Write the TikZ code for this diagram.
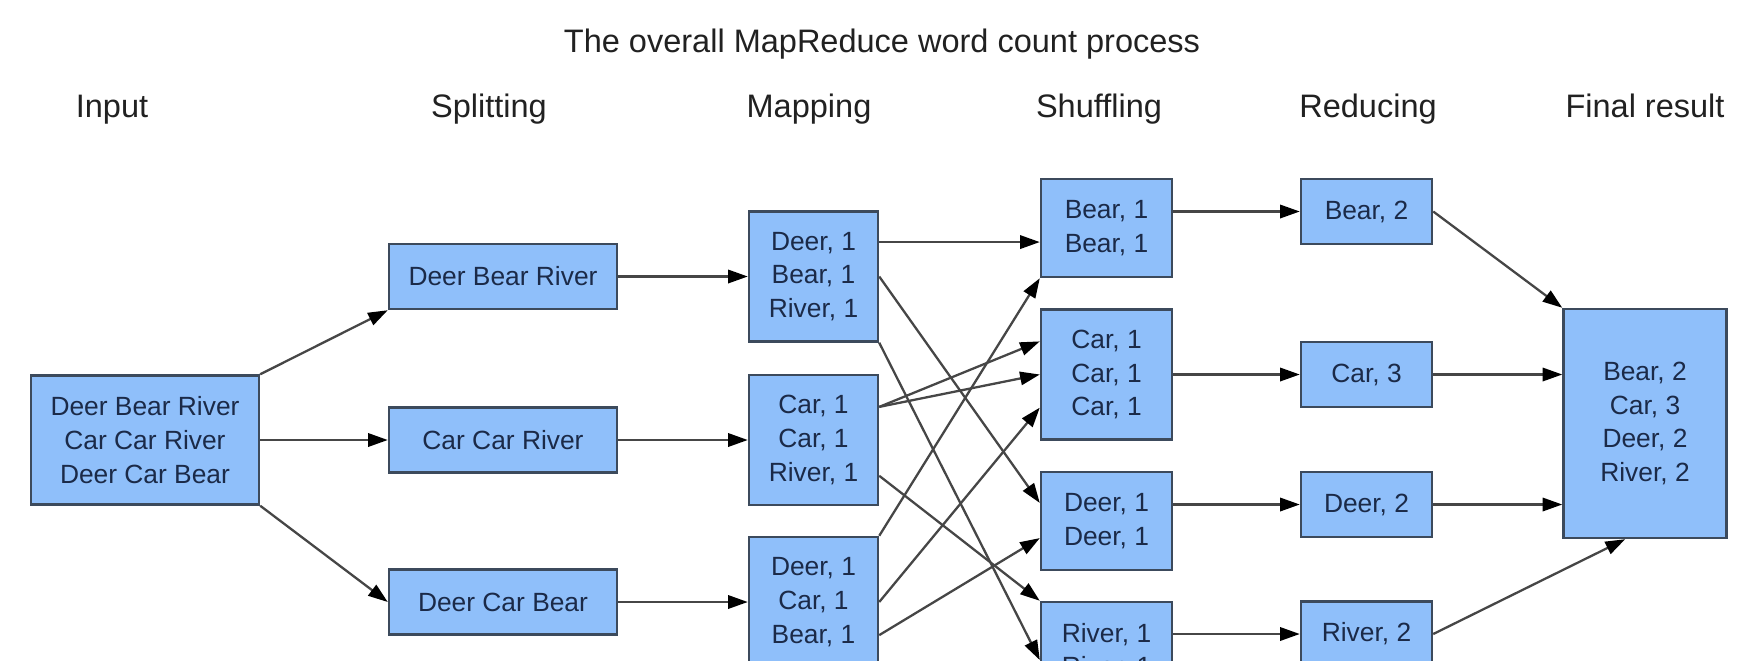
\documentclass[tikz,border=0pt]{standalone}
\usepackage{fontspec}
\setmainfont{Liberation Sans}
\usetikzlibrary{arrows.meta,calc}

\definecolor{boxblue}{RGB}{143,191,250}
\definecolor{boxline}{RGB}{60,74,92}
\definecolor{boxtext}{RGB}{27,42,72}
\definecolor{wire}{RGB}{70,70,70}

\tikzset{
	box/.style={draw=boxline, line width=0.7pt, fill=boxblue, text=boxtext, align=center, inner sep=0pt,
		minimum width=1.31cm, minimum height=0.65cm, font=\fontsize{7.5}{9.6}\selectfont},
	wide/.style={box, minimum width=2.28cm},
	head/.style={anchor=base, text=black!87, font=\fontsize{9.25}{11}\selectfont},
	arr/.style={draw=wire, line width=0.65pt, -{Triangle[length=5.6pt,width=3.8pt,color=black]}},
}

\begin{document}
\begin{tikzpicture}
			\useasboundingbox (0,0) rectangle (17.44,6.6);
			\clip (0,0) rectangle (17.44,6.6);
			\fill[white] (0,0) rectangle (17.44,6.6);
			\node[head] (title) at (8.82,6.074) {The overall MapReduce word count process};
			\node[head] (hin) at (1.12,5.425) {Input};
			\node[head] (hsp) at (4.89,5.425) {Splitting};
			\node[head] (hmp) at (8.09,5.425) {Mapping};
			\node[head] (hsh) at (10.99,5.425) {Shuffling};
			\node[head] (hrd) at (13.68,5.425) {Reducing};
			\node[head] (hfin) at (16.45,5.425) {Final result};
			\node[wide, minimum height=1.29cm] (inp) at (1.45,2.20) {Deer Bear River\\Car Car River\\Deer Car Bear};
			\node[wide] (sp1) at (5.03,3.835) {Deer Bear River};
			\node[wide] (sp2) at (5.03,2.20) {Car Car River};
			\node[wide] (sp3) at (5.03,0.58) {Deer Car Bear};
			\node[box, minimum width=1.29cm, minimum height=1.30cm] (mp1) at (8.135,3.835) {Deer, 1\\Bear, 1\\River, 1};
			\node[box, minimum width=1.29cm, minimum height=1.30cm] (mp2) at (8.135,2.20) {Car, 1\\Car, 1\\River, 1};
			\node[box, minimum width=1.29cm, minimum height=1.30cm] (mp3) at (8.135,0.58) {Deer, 1\\Car, 1\\Bear, 1};
			\node[box, minimum height=0.98cm] (sh1) at (11.065,4.32) {Bear, 1\\Bear, 1};
			\node[box, minimum height=1.30cm] (sh2) at (11.065,2.855) {Car, 1\\Car, 1\\Car, 1};
			\node[box, minimum height=0.98cm] (sh3) at (11.065,1.39) {Deer, 1\\Deer, 1};
			\node[box, minimum height=0.98cm] (sh4) at (11.065,0.09) {River, 1\\River, 1};
			\node[box] (rd1) at (13.665,4.485) {Bear, 2};
			\node[box] (rd2) at (13.665,2.855) {Car, 3};
			\node[box] (rd3) at (13.665,1.555) {Deer, 2};
			\node[box] (rd4) at (13.665,0.26) {River, 2};
			\node[box, minimum width=1.63cm, minimum height=2.29cm] (fin) at (16.45,2.365) {Bear, 2\\Car, 3\\Deer, 2\\River, 2};
			\draw[arr] (inp.north east) -- (sp1.south west);
			\draw[arr] (inp.east) -- (sp2.west);
			\draw[arr] (inp.south east) -- (sp3.west);
			\draw[arr] (sp1.east) -- (mp1.west);
			\draw[arr] (sp2.east) -- (mp2.west);
			\draw[arr] (sp3.east) -- (mp3.west);
			\coordinate (m1a) at ($(mp1.north east)!.24!(mp1.south east)$);
			\draw[arr] (m1a) -- (m1a -| sh1.west);
			\draw[arr] (mp1.east) -- ($(sh3.north west)!.32!(sh3.south west)$);
			\draw[arr] (mp1.south east) -- ($(sh4.north west)!.59!(sh4.south west)$);
			\coordinate (m2a) at ($(mp2.north east)!.25!(mp2.south east)$);
			\draw[arr] (m2a) -- ($(sh2.north west)!.25!(sh2.south west)$);
			\draw[arr] (m2a) -- (sh2.west);
			\draw[arr] ($(mp2.north east)!.77!(mp2.south east)$) -- (sh4.north west);
			\draw[arr] (mp3.north east) -- (sh1.south west);
			\draw[arr] (mp3.east) -- ($(sh2.north west)!.75!(sh2.south west)$);
			\draw[arr] ($(mp3.north east)!.75!(mp3.south east)$) -- ($(sh3.north west)!.67!(sh3.south west)$);
			\draw[arr] (sh1.east |- rd1.west) -- (rd1.west);
			\draw[arr] (sh2.east |- rd2.west) -- (rd2.west);
			\draw[arr] (sh3.east |- rd3.west) -- (rd3.west);
			\draw[arr] (sh4.east |- rd4.west) -- (rd4.west);
			\draw[arr] (rd1.east) -- (fin.north west);
			\draw[arr] (rd2.east) -- (rd2.east -| fin.west);
			\draw[arr] (rd3.east) -- (rd3.east -| fin.west);
			\draw[arr] (rd4.east) -- ($(fin.south west)!.38!(fin.south east)$);
		\end{tikzpicture}
\end{document}
